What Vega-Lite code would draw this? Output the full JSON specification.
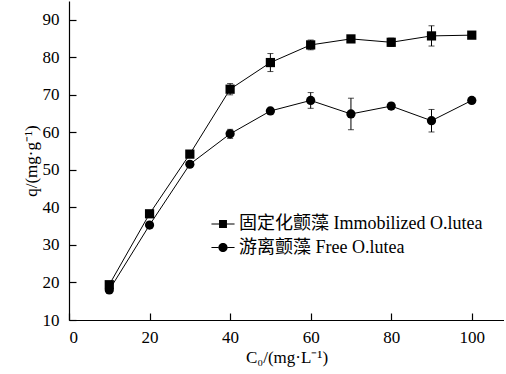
{
  "$schema": "https://vega.github.io/schema/vega-lite/v6.json",
  "autosize": {"type": "none"},
  "padding": {"left": 69, "top": 1, "right": 0, "bottom": 53},
  "width": 435,
  "height": 319,
  "background": "white",
  "config": {
    "view": {"stroke": null}
  },
  "data": {
    "values": [
      {"series": "固定化颤藻 Immobilized O.lutea", "c0": 10, "q": 19.4, "lo": 19.0, "hi": 19.8},
      {"series": "固定化颤藻 Immobilized O.lutea", "c0": 20, "q": 38.3, "lo": 37.9, "hi": 38.7},
      {"series": "固定化颤藻 Immobilized O.lutea", "c0": 30, "q": 54.2, "lo": 53.8, "hi": 54.6},
      {"series": "固定化颤藻 Immobilized O.lutea", "c0": 40, "q": 71.5, "lo": 70.0, "hi": 73.0},
      {"series": "固定化颤藻 Immobilized O.lutea", "c0": 50, "q": 78.6, "lo": 76.2, "hi": 81.0},
      {"series": "固定化颤藻 Immobilized O.lutea", "c0": 60, "q": 83.3, "lo": 82.0, "hi": 84.6},
      {"series": "固定化颤藻 Immobilized O.lutea", "c0": 70, "q": 84.9, "lo": 84.5, "hi": 85.3},
      {"series": "固定化颤藻 Immobilized O.lutea", "c0": 80, "q": 84.0, "lo": 82.9, "hi": 85.1},
      {"series": "固定化颤藻 Immobilized O.lutea", "c0": 90, "q": 85.7, "lo": 83.0, "hi": 88.4},
      {"series": "固定化颤藻 Immobilized O.lutea", "c0": 100, "q": 85.9, "lo": 85.5, "hi": 86.3},
      {"series": "游离颤藻 Free O.lutea", "c0": 10, "q": 18.0, "lo": 17.6, "hi": 18.4},
      {"series": "游离颤藻 Free O.lutea", "c0": 20, "q": 35.3, "lo": 34.9, "hi": 35.7},
      {"series": "游离颤藻 Free O.lutea", "c0": 30, "q": 51.5, "lo": 51.1, "hi": 51.9},
      {"series": "游离颤藻 Free O.lutea", "c0": 40, "q": 59.6, "lo": 58.4, "hi": 60.8},
      {"series": "游离颤藻 Free O.lutea", "c0": 50, "q": 65.7, "lo": 65.3, "hi": 66.1},
      {"series": "游离颤藻 Free O.lutea", "c0": 60, "q": 68.5, "lo": 66.4, "hi": 70.6},
      {"series": "游离颤藻 Free O.lutea", "c0": 70, "q": 64.9, "lo": 60.7, "hi": 69.1},
      {"series": "游离颤藻 Free O.lutea", "c0": 80, "q": 67.0, "lo": 66.2, "hi": 67.8},
      {"series": "游离颤藻 Free O.lutea", "c0": 90, "q": 63.1, "lo": 60.1, "hi": 66.1},
      {"series": "游离颤藻 Free O.lutea", "c0": 100, "q": 68.5, "lo": 68.1, "hi": 68.9}
    ]
  },
  "encoding": {
    "x": {
      "field": "c0", "type": "quantitative",
      "scale": {"domain": [0, 108], "nice": false},
      "axis": {
        "values": [0, 20, 40, 60, 80, 100], "title": "C₀/(mg·L⁻¹)",
        "grid": false, "domainColor": "black", "tickColor": "black", "labelColor": "black", "titleColor": "black",
        "labelFont": "Liberation Serif", "titleFont": "Liberation Serif", "labelFontSize": 17, "titleFontSize": 17,
        "titleFontWeight": "normal", "tickSize": -7, "domainWidth": 1.2, "tickWidth": 1.2,
        "labelPadding": 16, "titlePadding": 4
      }
    },
    "y": {
      "field": "q", "type": "quantitative",
      "scale": {"domain": [10, 95], "nice": false},
      "axis": {
        "values": [10, 20, 30, 40, 50, 60, 70, 80, 90], "title": "q/(mg·g⁻¹)",
        "grid": false, "domainColor": "black", "tickColor": "black", "labelColor": "black", "titleColor": "black",
        "labelFont": "Liberation Serif", "titleFont": "Liberation Serif", "labelFontSize": 17, "titleFontSize": 17,
        "titleFontWeight": "normal", "tickSize": -7, "domainWidth": 1.2, "tickWidth": 1.2,
        "labelPadding": 17, "titlePadding": 2
      }
    }
  },
  "layer": [
    {
      "mark": {"type": "errorbar", "ticks": {"size": 6, "color": "black", "strokeWidth": 1}, "color": "black", "thickness": 1},
      "encoding": {
        "y": {"field": "lo", "type": "quantitative", "title": "q/(mg·g⁻¹)"},
        "y2": {"field": "hi"},
        "detail": {"field": "series"}
      }
    },
    {
      "mark": {"type": "line", "color": "black", "strokeWidth": 1},
      "encoding": {
        "detail": {"field": "series"}
      }
    },
    {
      "mark": {"type": "point", "filled": true, "color": "black", "opacity": 1, "size": 85},
      "encoding": {
        "shape": {
          "field": "series", "type": "nominal",
          "scale": {"domain": ["固定化颤藻 Immobilized O.lutea", "游离颤藻 Free O.lutea"], "range": ["square", "circle"]},
          "legend": null
        }
      }
    },
    {
      "mark": {"type": "point", "filled": true, "color": "black", "opacity": 0, "size": 484},
      "encoding": {
        "shape": {
          "field": "series", "type": "nominal",
          "scale": {"domain": ["固定化颤藻 Immobilized O.lutea", "游离颤藻 Free O.lutea"], "range": ["M-1.05,-0.05H-0.3V0.05H-1.05ZM0.3,-0.05H1.05V0.05H0.3ZM-0.36,-0.36H0.36V0.36H-0.36Z", "M-1.05,-0.05H-0.41V0.05H-1.05ZM0.41,-0.05H1.05V0.05H0.41ZM-0.42,0A0.42,0.42 0 1,0 0.42,0A0.42,0.42 0 1,0 -0.42,0Z"]},
          "legend": {
            "title": null,
            "orient": "none",
            "legendX": 142,
            "legendY": 211,
            "labelFont": "Liberation Serif, Noto Sans CJK SC",
            "labelFontSize": 18,
            "labelColor": "black",
            "labelLimit": 400,
            "symbolSize": 484,
            "symbolFillColor": "black",
            "symbolOpacity": 1,
            "rowPadding": 2.5,
            "labelOffset": 4
          }
        }
      }
    }
  ],
  "resolve": {"scale": {"shape": "independent"}, "legend": {"shape": "independent"}}
}
